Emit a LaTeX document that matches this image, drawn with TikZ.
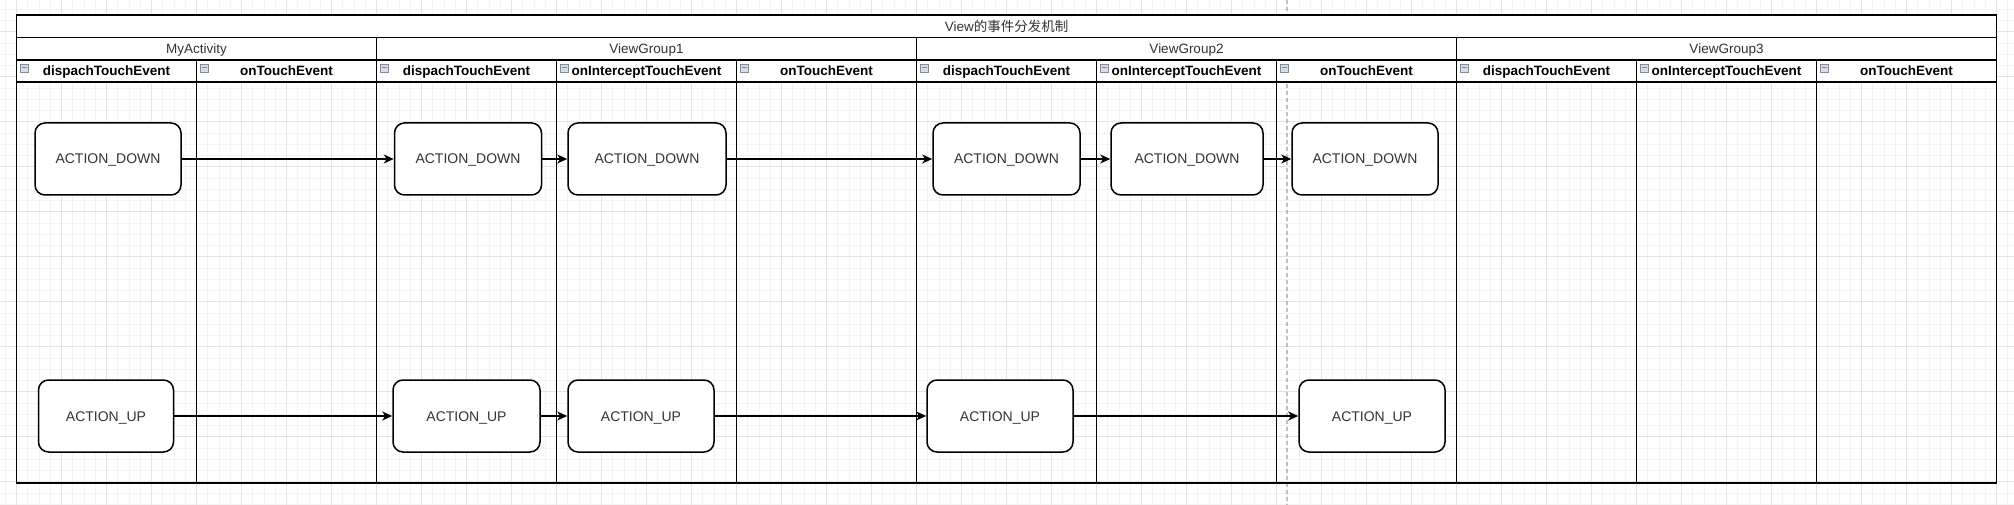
\documentclass[tikz,border=0pt]{standalone}
\usepackage{fontspec}
\setmainfont{Liberation Sans}
\newfontfamily\cjk{Noto Sans CJK SC}
\usepackage{xcolor}
\usetikzlibrary{arrows.meta}
\definecolor{gridfine}{HTML}{F3F3F3}
\definecolor{gridcoarse}{HTML}{E4E4E4}
\definecolor{pagebreak}{HTML}{BEBEBE}
\definecolor{labelgray}{HTML}{333333}
\definecolor{iconfill}{HTML}{D9DDE6}
\definecolor{icondraw}{HTML}{858B96}
\tikzset{
  lane/.style={draw=black, line width=1.6pt},
  header/.style={lane, fill=white},
  headtext/.style={text height=9.7pt, text depth=0pt, inner sep=0pt},
  event/.style={draw=black, line width=1.5pt, fill=white, rounded corners=10pt,
    minimum height=72pt, inner sep=0pt, text height=10pt, text depth=0pt,
    text=labelgray, font=\fontsize{14}{16}\selectfont},
  flow/.style={-{Stealth[length=10pt,width=9pt,inset=3pt]}, line width=1.3pt},
  collapse/.style={draw=icondraw, fill=iconfill, line width=0.8pt, minimum size=8pt, inner sep=0pt,
    path picture={\draw[icondraw, line width=1pt] ([xshift=1.5pt]path picture bounding box.west) -- ([xshift=-1.5pt]path picture bounding box.east);}},
}

\begin{document}
\begin{tikzpicture}[x=1pt,y=-1pt,font=\fontsize{13.5}{16}\selectfont]
	\useasboundingbox (0,0) rectangle (2014,505);
	% Background grid
	\begin{scope}[y=1pt, shift={(16.5,-31.7)}]
		\draw[gridfine, line width=0.8pt, step=11.25] (-16.5,-473.3) grid (1997.5,31.7);
		\draw[gridcoarse, line width=0.8pt, step=45] (-16.5,-473.3) grid (1997.5,31.7);
	\end{scope}
	\draw[pagebreak, line width=1.2pt, dash pattern=on 4pt off 3pt] (1287,0) -- (1287,505);
	% Title
	\draw[header] (16.5,15) rectangle (1996.5,37.5) node[pos=.5, headtext, text=labelgray] (title) {View{\cjk 的事件分发机制}};
	% Pools
	\draw[lane] (16.5,37.5) rectangle (376.5,483);
	\draw[lane] (376.5,37.5) rectangle (916.5,483);
	\draw[lane] (916.5,37.5) rectangle (1456.5,483);
	\draw[lane] (1456.5,37.5) rectangle (1996.5,483);
	\draw[header] (16.5,37.5) rectangle (376.5,60) node[pos=.5, headtext, text=labelgray] (myactivity) {MyActivity};
	\draw[header] (376.5,37.5) rectangle (916.5,60) node[pos=.5, headtext, text=labelgray] (viewgroup1) {ViewGroup1};
	\draw[header] (916.5,37.5) rectangle (1456.5,60) node[pos=.5, headtext, text=labelgray] (viewgroup2) {ViewGroup2};
	\draw[header] (1456.5,37.5) rectangle (1996.5,60) node[pos=.5, headtext, text=labelgray] (viewgroup3) {ViewGroup3};
	% Lanes
	\draw[lane] (16.5,60) rectangle (196.5,483);
	\draw[lane] (196.5,60) rectangle (376.5,483);
	\draw[lane] (376.5,60) rectangle (556.5,483);
	\draw[lane] (556.5,60) rectangle (736.5,483);
	\draw[lane] (736.5,60) rectangle (916.5,483);
	\draw[lane] (916.5,60) rectangle (1096.5,483);
	\draw[lane] (1096.5,60) rectangle (1276.5,483);
	\draw[lane] (1276.5,60) rectangle (1456.5,483);
	\draw[lane] (1456.5,60) rectangle (1636.5,483);
	\draw[lane] (1636.5,60) rectangle (1816.5,483);
	\draw[lane] (1816.5,60) rectangle (1996.5,483);
	% Lane headers
	\draw[header] (16.5,60) rectangle (196.5,82) node[pos=.5, headtext] (ma-dispatch) {\bfseries dispachTouchEvent};
	\draw[header] (196.5,60) rectangle (376.5,82) node[pos=.5, headtext] (ma-touch) {\bfseries onTouchEvent};
	\draw[header] (376.5,60) rectangle (556.5,82) node[pos=.5, headtext] (vg1-dispatch) {\bfseries dispachTouchEvent};
	\draw[header] (556.5,60) rectangle (736.5,82) node[pos=.5, headtext] (vg1-intercept) {\bfseries onInterceptTouchEvent};
	\draw[header] (736.5,60) rectangle (916.5,82) node[pos=.5, headtext] (vg1-touch) {\bfseries onTouchEvent};
	\draw[header] (916.5,60) rectangle (1096.5,82) node[pos=.5, headtext] (vg2-dispatch) {\bfseries dispachTouchEvent};
	\draw[header] (1096.5,60) rectangle (1276.5,82) node[pos=.5, headtext] (vg2-intercept) {\bfseries onInterceptTouchEvent};
	\draw[header] (1276.5,60) rectangle (1456.5,82) node[pos=.5, headtext] (vg2-touch) {\bfseries onTouchEvent};
	\draw[header] (1456.5,60) rectangle (1636.5,82) node[pos=.5, headtext] (vg3-dispatch) {\bfseries dispachTouchEvent};
	\draw[header] (1636.5,60) rectangle (1816.5,82) node[pos=.5, headtext] (vg3-intercept) {\bfseries onInterceptTouchEvent};
	\draw[header] (1816.5,60) rectangle (1996.5,82) node[pos=.5, headtext] (vg3-touch) {\bfseries onTouchEvent};
	% Collapse icons
	\node[collapse] (ic1) at (24.5,68) {};
	\node[collapse] (ic2) at (204.5,68) {};
	\node[collapse] (ic3) at (384.5,68) {};
	\node[collapse] (ic4) at (564.5,68) {};
	\node[collapse] (ic5) at (744.5,68) {};
	\node[collapse] (ic6) at (924.5,68) {};
	\node[collapse] (ic7) at (1104.5,68) {};
	\node[collapse] (ic8) at (1284.5,68) {};
	\node[collapse] (ic9) at (1464.5,68) {};
	\node[collapse] (ic10) at (1644.5,68) {};
	\node[collapse] (ic11) at (1824.5,68) {};
	% ACTION_DOWN row
	\node[event, minimum width=146pt] (ma-down) at (108,159) {ACTION\_DOWN};
	\node[event, minimum width=147pt] (vg1d-down) at (468,159) {ACTION\_DOWN};
	\node[event, minimum width=158pt] (vg1i-down) at (647,159) {ACTION\_DOWN};
	\node[event, minimum width=147pt] (vg2d-down) at (1006.5,159) {ACTION\_DOWN};
	\node[event, minimum width=152pt] (vg2i-down) at (1187,159) {ACTION\_DOWN};
	\node[event, minimum width=146pt] (vg2t-down) at (1365,159) {ACTION\_DOWN};
	% ACTION_UP row
	\node[event, minimum width=135pt] (ma-up) at (106,416) {ACTION\_UP};
	\node[event, minimum width=147pt] (vg1d-up) at (466.5,416) {ACTION\_UP};
	\node[event, minimum width=146pt] (vg1i-up) at (641,416) {ACTION\_UP};
	\node[event, minimum width=146pt] (vg2d-up) at (1000,416) {ACTION\_UP};
	\node[event, minimum width=146pt] (vg2t-up) at (1372,416) {ACTION\_UP};
	% Draw arrows
	\draw[flow] (ma-down.east) -- (vg1d-down.west);
	\draw[flow] (vg1d-down.east) -- (vg1i-down.west);
	\draw[flow] (vg1i-down.east) -- (vg2d-down.west);
	\draw[flow] (vg2d-down.east) -- (vg2i-down.west);
	\draw[flow] (vg2i-down.east) -- (vg2t-down.west);
	\draw[flow] (ma-up.east) -- (vg1d-up.west);
	\draw[flow] (vg1d-up.east) -- (vg1i-up.west);
	\draw[flow] (vg1i-up.east) -- (vg2d-up.west);
	\draw[flow] (vg2d-up.east) -- (vg2t-up.west);
\end{tikzpicture}
\end{document}
